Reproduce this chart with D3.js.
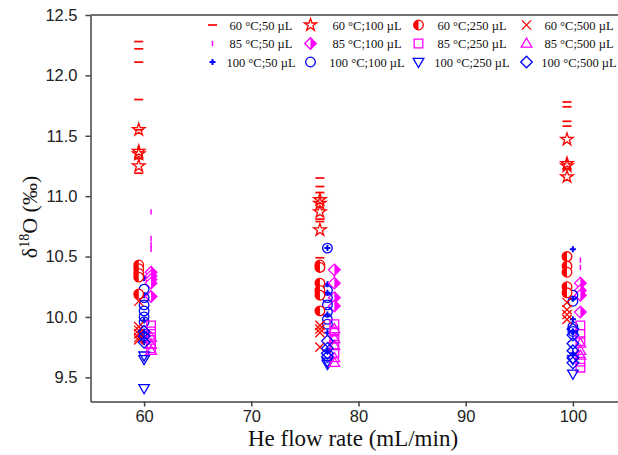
<!DOCTYPE html>
<html lang="en">
<head>
<meta charset="UTF-8">
<title>He flow rate vs d18O</title>
<script src="https://d3js.org/d3.v7.min.js"></script>
<style>
  body { margin: 0; background: #fff; }
  .tick text { font-family: "Liberation Sans", Arial, sans-serif; font-size: 16.5px; fill: #222; }
  .axis path, .axis line { stroke: #444; stroke-width: 1.5px; }
  .lab { font-family: "Liberation Serif", "Times New Roman", serif; fill: #111; }
</style>
</head>
<body>
<svg width="618" height="455"></svg>
<script>
// x position of each cluster, per temperature (mL/min)
const x60C = [59.5, 76.4, 99.45];
const x85C = [60.65, 77.75, 100.7];
const x100C = [60, 77.1, 100];

// d18O values per cluster [~60, ~77, ~100]
const s60_50 = [[12.28, 12.22, 12.11, 11.80, 11.55, 11.31, 11.19], [11.15, 11.08, 11.03, 10.81, 10.79, 10.49], [11.78, 11.74, 11.62, 11.58, 11.23]];
const s85_50 = [[10.87, 10.65, 10.60, 10.56], [10.40, 10.35], [10.47, 10.41]];
const s100_50 = [[10.32, 10.18, 9.97, 9.87, 9.79], [10.57, 10.27, 10.20, 10.02, 9.87, 9.72], [10.56, 10.15, 9.98, 9.88, 9.70]];
const s60_100 = [[11.55, 11.37, 11.35, 11.25], [10.97, 10.94, 10.87, 10.72], [11.47, 11.27, 11.25, 11.16]];
const s85_100 = [[10.37, 10.34, 10.31, 10.28, 10.17], [10.39, 10.28, 10.16, 10.09], [10.28, 10.22, 10.18, 10.04]];
const s100_100 = [[10.23, 10.16, 10.10, 10.05, 10.00, 9.96, 9.86], [10.57, 10.22, 10.16, 10.10, 10.04, 9.98, 9.94], [10.18, 10.13, 9.92, 9.88]];
const s60_250 = [[10.43, 10.40, 10.36, 10.33, 10.19], [10.43, 10.41, 10.28, 10.22, 10.18, 10.05], [10.50, 10.42, 10.37, 10.25, 10.20]];
const s85_250 = [[9.93, 9.88, 9.83, 9.78, 9.74], [9.94, 9.88, 9.82, 9.77, 9.70], [9.93, 9.86, 9.80, 9.63, 9.58]];
const s100_250 = [[9.68, 9.65, 9.41], [9.63, 9.61], [9.65, 9.53]];
const s60_500 = [[10.13, 9.92, 9.89, 9.86, 9.83, 9.81], [9.93, 9.90, 9.87, 9.75], [10.12, 10.06, 10.02, 9.98]];
const s85_500 = [[9.83, 9.77, 9.72], [9.90, 9.82, 9.76, 9.66, 9.62], [9.78, 9.72, 9.68]];
const s100_500 = [[9.88, 9.84, 9.79], [9.80, 9.74, 9.70, 9.67], [9.90, 9.85, 9.78, 9.72, 9.66, 9.62]];

const xTicks = [60, 70, 80, 90, 100];
const yTicks = [9.5, 10.0, 10.5, 11.0, 11.5, 12.0, 12.5];

const RED = "#ff0000", MAG = "#ff00ff", BLUE = "#0000ff";

// legend order: column by column (volume), rows by temperature
const series = [
  { label: "60 °C;50 µL", xs: x60C, vals: s60_50, color: RED, shape: "hdash" },
  { label: "85 °C;50 µL", xs: x85C, vals: s85_50, color: MAG, shape: "vdash" },
  { label: "100 °C;50 µL", xs: x100C, vals: s100_50, color: BLUE, shape: "plus" },
  { label: "60 °C;100 µL", xs: x60C, vals: s60_100, color: RED, shape: "star" },
  { label: "85 °C;100 µL", xs: x85C, vals: s85_100, color: MAG, shape: "halfdiamond" },
  { label: "100 °C;100 µL", xs: x100C, vals: s100_100, color: BLUE, shape: "circle" },
  { label: "60 °C;250 µL", xs: x60C, vals: s60_250, color: RED, shape: "halfcircle" },
  { label: "85 °C;250 µL", xs: x85C, vals: s85_250, color: MAG, shape: "square" },
  { label: "100 °C;250 µL", xs: x100C, vals: s100_250, color: BLUE, shape: "tridown" },
  { label: "60 °C;500 µL", xs: x60C, vals: s60_500, color: RED, shape: "x" },
  { label: "85 °C;500 µL", xs: x85C, vals: s85_500, color: MAG, shape: "triup" },
  { label: "100 °C;500 µL", xs: x100C, vals: s100_500, color: BLUE, shape: "diamond" }
];

const svg = d3.select("svg");
const plotLeft = 90.5, plotTop = 15, plotBottom = 401.5;

const x = d3.scaleLinear().domain([55, 105]).range([plotLeft, plotLeft + 536]);
const y = d3.scaleLinear().domain([9.3, 12.5]).range([plotBottom, plotTop]);

// frame top line
svg.append("line")
  .attr("x1", plotLeft).attr("x2", 618).attr("y1", plotTop).attr("y2", plotTop)
  .attr("stroke", "#444").attr("stroke-width", 1.5);

svg.append("g").attr("class", "axis")
  .attr("transform", `translate(0,${plotBottom})`)
  .call(d3.axisBottom(x).tickValues(xTicks).tickSize(5).tickPadding(4).tickSizeOuter(0));

svg.append("g").attr("class", "axis")
  .attr("transform", `translate(${plotLeft},0)`)
  .call(d3.axisLeft(y).tickValues(yTicks).tickFormat(d3.format(".1f")).tickSize(5).tickPadding(8).tickSizeOuter(0));

// marker drawing
function drawMarker(g, shape, color) {
  const sw = 1.3;
  switch (shape) {
    case "hdash":
      g.append("path").attr("d", "M-4.5,0H4.5").attr("stroke", color).attr("stroke-width", 1.7);
      break;
    case "vdash":
      g.append("path").attr("d", "M0,-2.7V2.7").attr("stroke", color).attr("stroke-width", 1.5);
      break;
    case "plus":
      g.append("path").attr("d", d3.symbol(d3.symbolCross, 20)()).attr("fill", color);
      break;
    case "star":
      g.append("path").attr("d", d3.symbol(d3.symbolStar, 48)()).attr("fill", "none")
        .attr("stroke", color).attr("stroke-width", sw);
      break;
    case "circle":
      g.append("circle").attr("r", 4.8).attr("fill", "none").attr("stroke", color).attr("stroke-width", sw);
      break;
    case "halfcircle":
      g.append("circle").attr("r", 4.8).attr("fill", "#fff").attr("stroke", color).attr("stroke-width", sw);
      g.append("path").attr("d", "M0,-4.8A4.8,4.8 0 0 0 0,4.8Z").attr("fill", color);
      break;
    case "square":
      g.append("path").attr("d", "M-4.3,-4.3H4.3V4.3H-4.3Z").attr("fill", "none").attr("stroke", color).attr("stroke-width", sw);
      break;
    case "triup":
      g.append("path").attr("d", "M0,-5.5L5.3,3.6L-5.3,3.6Z").attr("fill", "none").attr("stroke", color).attr("stroke-width", sw);
      break;
    case "tridown":
      g.append("path").attr("d", "M0,5.5L5.3,-3.6L-5.3,-3.6Z").attr("fill", "none").attr("stroke", color).attr("stroke-width", sw);
      break;
    case "diamond":
      g.append("path").attr("d", "M0,-5.8L5.8,0L0,5.8L-5.8,0Z").attr("fill", "none").attr("stroke", color).attr("stroke-width", sw);
      break;
    case "halfdiamond":
      g.append("path").attr("d", "M0,-5.8L5.8,0L0,5.8L-5.8,0Z").attr("fill", "#fff").attr("stroke", color).attr("stroke-width", sw);
      g.append("path").attr("d", "M0,-5.8L5.8,0L0,5.8Z").attr("fill", color);
      break;
    case "x":
      g.append("path").attr("d", "M-4.6,-4.6L4.6,4.6M-4.6,4.6L4.6,-4.6").attr("stroke", color).attr("stroke-width", sw);
      break;
  }
}

// points
const plot = svg.append("g");
series.forEach(s => {
  s.vals.forEach((clusterVals, ci) => {
    clusterVals.forEach(v => {
      const g = plot.append("g").attr("transform", `translate(${x(s.xs[ci])},${y(v)})`);
      drawMarker(g, s.shape, s.color);
    });
  });
});

// legend: 4 columns x 3 rows
const legSymX = [212.5, 310.5, 418.5, 526.5];
const legTextX = [261, 367, 472, 579];
const legRowY = [25, 43.5, 62];
series.forEach((s, i) => {
  const col = Math.floor(i / 3), row = i % 3;
  const g = svg.append("g").attr("transform", `translate(${legSymX[col]},${legRowY[row]})`);
  drawMarker(g, s.shape, s.color);
  svg.append("text").attr("class", "lab")
    .attr("x", legTextX[col]).attr("y", legRowY[row] + 4.5)
    .attr("text-anchor", "middle").attr("font-size", 12.5)
    .text(s.label);
});

// axis titles
svg.append("text").attr("class", "lab")
  .attr("x", 353).attr("y", 446).attr("text-anchor", "middle")
  .attr("font-size", 23).text("He flow rate (mL/min)");

const yl = svg.append("text").attr("class", "lab")
  .attr("transform", "translate(37,217) rotate(-90)")
  .attr("text-anchor", "middle").attr("font-size", 22);
yl.append("tspan").text("δ");
yl.append("tspan").attr("font-size", 14).attr("dy", -8).text("18");
yl.append("tspan").attr("dy", 8).text("O (‰)");
</script>
</body>
</html>
